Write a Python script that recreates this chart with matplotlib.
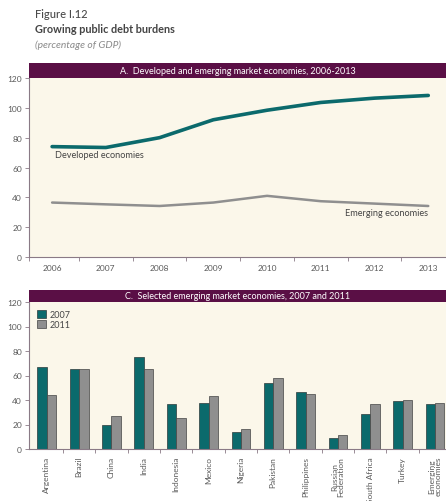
import matplotlib
matplotlib.use("Agg")
import matplotlib.pyplot as plt
from matplotlib.patches import Rectangle, Patch
import numpy as np

plt.rcParams['font.family'] = ['Lato', 'DejaVu Sans']

# Panel A data
years = [2006, 2007, 2008, 2009, 2010, 2011, 2012, 2013]
developed = [74, 73.4, 80, 92, 98.4, 103.6, 106.5, 108.3]
emerging = [36.5, 35.3, 34.2, 36.5, 41, 37.4, 35.8, 34.2]

# Panel C data
countries = ["Argentina", "Brazil", "China", "India", "Indonesia", "Mexico",
             "Nigeria", "Pakistan", "Philippines", "Russian\nFederation",
             "South Africa", "Turkey", "Emerging\neconomies"]
debt2007 = [67, 65.2, 19.8, 75.5, 36.7, 37.8, 13.6, 54, 46.5, 8.7, 28.5, 39.4, 36.4]
debt2011 = [43.7, 65.2, 27.2, 65.2, 25.5, 43.5, 16, 58, 44.8, 11.7, 36.7, 40.2, 37.8]
yticks = [0, 20, 40, 60, 80, 100, 120]

BG = "#fbf7ea"
BAND = "#5a0f45"
TEAL = "#0b6a6c"
GRAY = "#8f8f8f"
AXC = "#8a7a86"
TXT = "#5a5a5a"

fig = plt.figure(figsize=(4.46, 5.02), dpi=100)

fig.text(35/446, 1-14/502, "Figure I.12", fontsize=8, fontweight="medium", color="#4a4a4a", va="center")
fig.text(35/446, 1-30/502, "Growing public debt burdens", fontsize=7.8, fontweight="bold",
         color="#444444", va="center")
fig.text(35/446, 1-45/502, "(percentage of GDP)", fontsize=7.4, style="italic",
         color="#8a8a8a", va="center")

def style_axes(ax, title):
    ax.set_facecolor(BG)
    for s in ["top", "right"]:
        ax.spines[s].set_visible(False)
    for s in ["left", "bottom"]:
        ax.spines[s].set_color(AXC)
        ax.spines[s].set_linewidth(0.8)
    ax.set_ylim(0, 120)
    ax.set_yticks(yticks)
    ax.tick_params(axis="y", labelsize=6, colors=AXC, labelcolor=TXT, length=3, width=0.6, pad=2)
    ax.add_patch(Rectangle((0, 1.0), 1, 0.085, transform=ax.transAxes, facecolor=BAND,
                           edgecolor="none", clip_on=False))
    ax.text(0.5, 1.0425, title, transform=ax.transAxes, ha="center", va="center",
            color="white", fontsize=6.5)

# Top panel
ax1 = fig.add_axes([29/446, 1-258/502, 1-29/446, (258-79)/502])
style_axes(ax1, "A.  Developed and emerging market economies, 2006-2013")
ax1.plot(years, developed, color=TEAL, lw=2.6, solid_capstyle="round")
ax1.plot(years, emerging, color=GRAY, lw=1.8, solid_capstyle="round")
ax1.set_xlim(2005.57, 2013.33)
ax1.set_xticks(years)
ax1.set_xticklabels([str(y) for y in years])
ax1.set_xticks([y + 0.5 for y in years[:-1]] + [2005.57], minor=True)
ax1.tick_params(axis="x", which="major", length=0, labelsize=6, labelcolor=TXT, pad=5)
ax1.tick_params(axis="x", which="minor", length=3, width=0.6, colors=AXC)
ax1.text(2006.05, 68.5, "Developed economies", fontsize=6.6, color="#444444", va="center")
ax1.text(2013.0, 29.5, "Emerging economies", fontsize=6.6, color="#444444", va="center", ha="right")

# Bottom panel
ax2 = fig.add_axes([29/446, 1-450/502, 1-29/446, (450-303)/502])
style_axes(ax2, "C.  Selected emerging market economies, 2007 and 2011")
x = np.arange(len(countries))
w = 0.29
ax2.bar(x - w/2, debt2007, width=w, color=TEAL, edgecolor="#2d3a3a", linewidth=0.5, label="2007")
ax2.bar(x + w/2, debt2011, width=w, color=GRAY, edgecolor="#444444", linewidth=0.5, label="2011")
ax2.set_xlim(-0.55, 12.34)
ax2.set_xticks(x)
ax2.set_xticklabels(countries, rotation=90, fontsize=6, color=TXT, linespacing=0.9)
ax2.set_xticks(list(x[:-1] + 0.5), minor=True)
ax2.tick_params(axis="x", which="major", length=0, pad=5)
ax2.tick_params(axis="x", which="minor", length=3, width=0.6, colors=AXC)
leg = ax2.legend(loc="upper left", bbox_to_anchor=(0.005, 0.99), frameon=False, fontsize=6.5,
                 handlelength=1.0, handleheight=1.0, handletextpad=0.3, labelspacing=0.1,
                 borderaxespad=0.3)
for t in leg.get_texts():
    t.set_color("#444444")

fig.savefig("out.png", dpi=100, facecolor="white")
